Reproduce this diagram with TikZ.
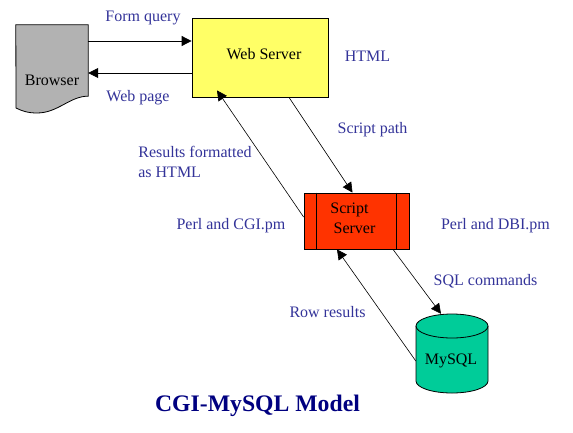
\documentclass[tikz,border=0pt]{standalone}
\usepackage{fontspec}
\setmainfont{Liberation Serif}
\usepackage{tikz}
\usetikzlibrary{arrows.meta}
\definecolor{labelblue}{HTML}{333399}
\definecolor{titleblue}{HTML}{000080}
\definecolor{webyellow}{HTML}{FFFF66}
\definecolor{scriptred}{HTML}{FF3300}
\definecolor{dbgreen}{HTML}{00CC99}
\definecolor{browsergray}{HTML}{B2B2B2}

\begin{document}
\begin{tikzpicture}[
    x=1pt, y=-1pt,
    every node/.style={font=\fontsize{16}{20}\selectfont},
    box/.style={draw, thick, minimum width=#1, inner sep=0pt},
    ghost/.style={minimum width=#1, inner sep=0pt},
    tag/.style={text=labelblue, align=left, inner sep=0pt},
    >={Triangle[length=10pt, width=10pt]}
]
\useasboundingbox (0,0) rectangle (573,432);

% browser sheet
\node (browser) at (52,60.5) [ghost=72pt, minimum height=71pt] {};
\draw[thick, fill=browsergray] (browser.north west) -- (browser.north east) -- (browser.south east)
    .. controls (70,96) and (58,113) .. (37,113) .. controls (28,113) and (22,111) .. (16,108) -- cycle;
\node (browsertext) at (52,80) {Browser};

% servers
\node (web) at (260,57.5) [box=136pt, minimum height=79pt, fill=webyellow,
    label={[xshift=4pt, yshift=3pt]center:Web Server}] {};
\node (script) at (356.5,221) [box=105pt, minimum height=56pt, fill=scriptred,
    label={[xshift=-7pt, yshift=11pt]center:Script},
    label={[xshift=-2pt, yshift=-7pt]center:Server}] {};
\draw[thick] ([xshift=13pt]script.north west) -- ([xshift=13pt]script.south west);
\draw[thick] ([xshift=-13pt]script.north east) -- ([xshift=-13pt]script.south east);

% database
\node (mysql) at (452,353.5) [ghost=72pt, minimum height=79pt] {};
\draw[thick, fill=dbgreen] (416,326) .. controls (416,319.4) and (432,314) .. (452,314)
    .. controls (472,314) and (488,319.4) .. (488,326) -- (488,381)
    .. controls (488,387.6) and (472,393) .. (452,393)
    .. controls (432,393) and (416,387.6) .. (416,381) -- cycle;
\draw[thick] (416,326) .. controls (416,332.6) and (432,338) .. (452,338)
    .. controls (472,338) and (488,332.6) .. (488,326);
\node (mysqltext) at (451,361) {MySQL};

% request arrows
\draw[->, thick] ([yshift=19.5pt]browser.east) -- ([yshift=16.5pt]web.west);
\draw[->, thick] ([yshift=-15.5pt]web.west) -- ([yshift=-12.5pt]browser.east);
\draw[->, semithick] ([xshift=29pt]web.south) -- ([xshift=-4pt]script.north);
\draw[->, semithick] ([xshift=36.5pt]script.south) -- ([xshift=-11pt]mysql.north);

% result arrows
\draw[->, semithick] ([yshift=-7.5pt]mysql.west) -- ([xshift=-19.5pt]script.south);
\draw[->, semithick] ([yshift=4pt]script.west) -- ([shift={(-43pt,7pt)}]web.south);

% labels
\node (formquery) at (143,17.5) [tag] {Form query};
\node (webpage) at (138,97.5) [tag] {Web page};
\node (html) at (367.5,56) [tag] {HTML};
\node (scriptpath) at (372.5,129.5) [tag] {Script path};
\node (results) at (195,162) [tag] {Results formatted\\as HTML};
\node (perlcgi) at (231,225.5) [tag] {Perl and CGI.pm};
\node (perldbi) at (495.5,225.5) [tag] {Perl and DBI.pm};
\node (sqlcommands) at (485.5,281) [tag] {SQL commands};
\node (rowresults) at (327.5,312) [tag] {Row results};
\node (title) at (257.5,406) [text=titleblue, inner sep=0pt, font=\fontsize{23.7}{28}\selectfont\bfseries] {CGI-MySQL Model};

\end{tikzpicture}
\end{document}
